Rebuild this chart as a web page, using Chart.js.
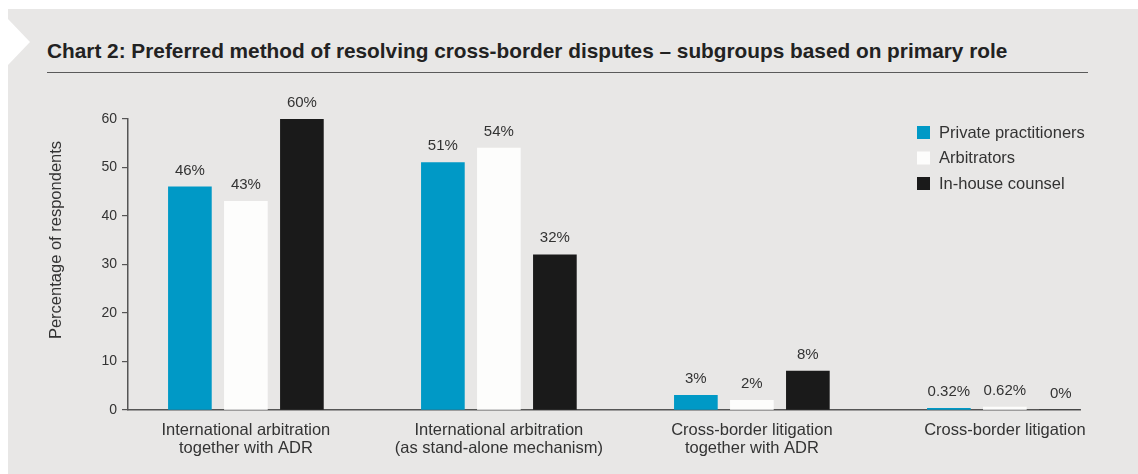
<!DOCTYPE html>
<html>
<head>
<meta charset="utf-8">
<script src="https://cdn.jsdelivr.net/npm/chart.js@4"></script>
<style>
  body { margin: 0; background: #fff; font-family: "Liberation Sans", Arial, sans-serif; }
  #panel { position: absolute; left: 8px; top: 9px; right: 0; bottom: 0; background: #e8e7e6; }
  #notch { position: absolute; left: 8px; top: 19px; width: 22px; height: 46px; background: #fff;
           clip-path: polygon(0 0, 100% 50%, 0 100%); }
  #title { position: absolute; left: 47px; top: 39px; font-size: 20.8px; font-weight: bold; color: #222;
           white-space: nowrap; }
  #rule { position: absolute; left: 47px; top: 72px; width: 1041px; border-top: 1.5px solid #5a5a5a; }
  #wrap { position: absolute; left: 0; top: 0; width: 1138px; height: 474px; }
</style>
</head>
<body>
<div id="panel"></div>
<div id="notch"></div>
<div id="title">Chart 2: Preferred method of resolving cross-border disputes – subgroups based on primary role</div>
<div id="rule"></div>
<div id="wrap"><canvas id="barChart"></canvas></div>
<script>
// Data
const categories = [
    ['International arbitration', 'together with ADR'],
    ['International arbitration', '(as stand-alone mechanism)'],
    ['Cross-border litigation', 'together with ADR'],
    ['Cross-border litigation']
];
const seriesNames = ['Private practitioners', 'Arbitrators', 'In-house counsel'];
const privatePractitioners = [46, 51, 3, 0.32];
const arbitrators = [43, 54, 2, 0.62];
const inHouseCounsel = [60, 32, 8, 0];
const yTickValues = [0, 10, 20, 30, 40, 50, 60];

const colors = ['#0099c6', '#fdfdfc', '#1a1a1a'];
const textColor = '#333';
const fontFamily = '"Liberation Sans", Arial, sans-serif';

function toPoints(values) {
    return values.map((v, i) => ({ x: i, y: v }));
}

// bar value labels + legend + y axis title
const extrasPlugin = {
    id: 'extras',
    afterDatasetsDraw(chart) {
        const ctx = chart.ctx;
        ctx.save();
        ctx.fillStyle = textColor;
        ctx.font = '15px ' + fontFamily;
        ctx.textAlign = 'center';
        ctx.textBaseline = 'bottom';
        chart.data.datasets.forEach((ds, di) => {
            chart.getDatasetMeta(di).data.forEach((bar, i) => {
                ctx.fillText(ds.data[i].y + '%', bar.x, bar.y - 9);
            });
        });

        // legend
        ctx.font = '16.5px ' + fontFamily;
        ctx.textAlign = 'left';
        ctx.textBaseline = 'middle';
        seriesNames.forEach((name, i) => {
            const y = 126 + i * 25.5;
            ctx.fillStyle = colors[i];
            ctx.fillRect(917, y, 13, 13);
            ctx.fillStyle = textColor;
            ctx.fillText(name, 939, y + 7);
        });

        // y axis title
        ctx.translate(56, 240);
        ctx.rotate(-Math.PI / 2);
        ctx.textAlign = 'center';
        ctx.fillText('Percentage of respondents', 0, 0);
        ctx.restore();
    }
};

const barChartCtx = document.getElementById('barChart').getContext('2d');
const barChart = new Chart(barChartCtx, {
    type: 'bar',
    data: {
        datasets: [
            { label: seriesNames[0], data: toPoints(privatePractitioners), backgroundColor: colors[0] },
            { label: seriesNames[1], data: toPoints(arbitrators), backgroundColor: colors[1] },
            { label: seriesNames[2], data: toPoints(inHouseCounsel), backgroundColor: colors[2] }
        ]
    },
    options: {
        responsive: true,
        maintainAspectRatio: false,
        animation: false,
        barThickness: 56,
        maxBarThickness: 43,
        layout: {
            padding: { left: 48, right: 58, top: 119, bottom: 14 }
        },
        scales: {
            x: {
                type: 'linear',
                offset: false,
                min: -0.466,
                max: 3.297,
                grid: { display: false, drawTicks: false, offset: false },
                border: { display: true, color: '#555', width: 1.5 },
                ticks: {
                    stepSize: 1,
                    includeBounds: false,
                    autoSkip: false,
                    maxRotation: 0,
                    padding: 11,
                    color: textColor,
                    font: { family: fontFamily, size: 16.5, lineHeight: '18px' },
                    callback: (v) => Number.isInteger(v) && categories[v] ? categories[v] : ''
                },
                afterFit: (s) => { s.height = 50; }
            },
            y: {
                min: 0,
                max: 60,
                afterBuildTicks: (s) => { s.ticks = yTickValues.map(v => ({ value: v })); },
                grid: { drawOnChartArea: false, tickLength: 6, color: '#555', lineWidth: 1.2 },
                border: { display: true, color: '#555', width: 1.5 },
                ticks: {
                    padding: 5,
                    color: textColor,
                    font: { family: fontFamily, size: 14 }
                },
                afterFit: (s) => { s.width = 80; }
            }
        },
        plugins: {
            legend: { display: false },
            tooltip: { enabled: false }
        }
    },
    plugins: [extrasPlugin]
});
</script>
</body>
</html>
